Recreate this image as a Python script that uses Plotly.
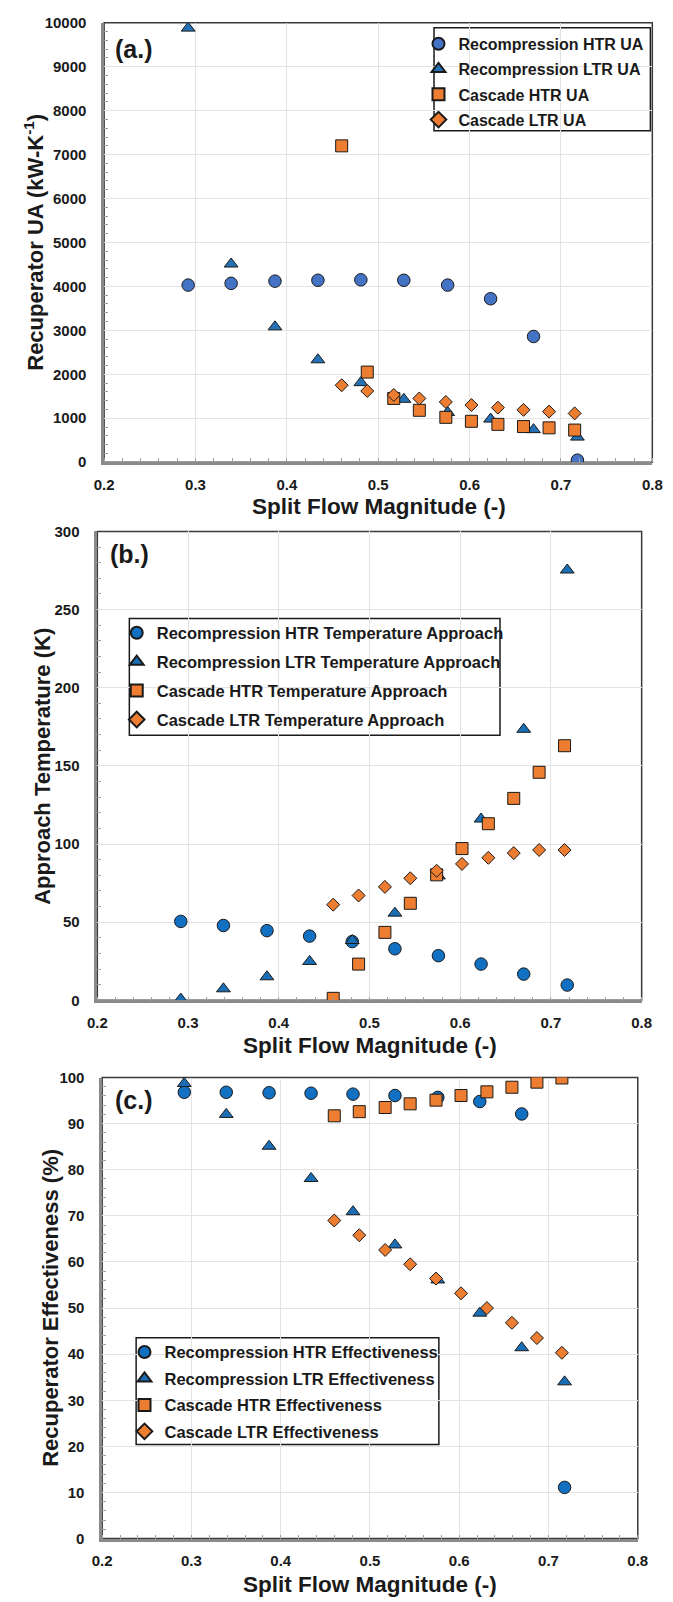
import plotly.graph_objects as go

# ---------------- data ----------------
x_recomp = [0.292, 0.339, 0.387, 0.434, 0.481, 0.528, 0.576, 0.623, 0.670, 0.718]
x_cascade = [0.460, 0.488, 0.517, 0.545, 0.574, 0.602, 0.631, 0.659, 0.687, 0.715]

ua_recomp_htr = [4030, 4070, 4120, 4140, 4150, 4140, 4030, 3720, 2860, 45]
ua_recomp_ltr = [9880, 4510, 3080, 2330, 1810, 1430, 1130, 980, 740, 570]
ua_cascade_htr = [7200, 2050, 1450, 1180, 1020, 930, 860, 810, 780, 730]
ua_cascade_ltr = [1750, 1620, 1530, 1450, 1370, 1300, 1240, 1190, 1150, 1110]

at_recomp_htr = [50.5, 47.9, 44.6, 41.1, 37.6, 33.0, 28.6, 23.2, 16.8, 9.8]
at_recomp_ltr = [0.8, 7.4, 15.1, 24.9, 38.3, 55.8, 79.6, 116.0, 173.4, 275.3]
at_cascade_htr = [1.3, 23.2, 43.5, 62.1, 80.3, 97.1, 113.0, 129.2, 145.9, 162.9]
at_cascade_ltr = [61.2, 67.1, 72.6, 78.1, 82.9, 87.3, 91.2, 94.2, 96.2, 96.2]

ef_recomp_htr = [96.8, 96.8, 96.7, 96.6, 96.4, 96.1, 95.7, 94.8, 92.1, 11.1]
ef_recomp_ltr = [98.7, 92.0, 85.1, 78.1, 70.9, 63.7, 56.1, 48.9, 41.4, 34.0]
ef_cascade_htr = [91.7, 92.6, 93.5, 94.3, 95.1, 96.1, 96.9, 97.9, 99.0, 99.9]
ef_cascade_ltr = [69.0, 65.8, 62.6, 59.5, 56.4, 53.2, 50.0, 46.8, 43.5, 40.3]

names_a = ["Recompression HTR UA", "Recompression LTR UA", "Cascade HTR UA", "Cascade LTR UA"]
names_b = ["Recompression HTR Temperature Approach", "Recompression LTR Temperature Approach",
           "Cascade HTR Temperature Approach", "Cascade LTR Temperature Approach"]
names_c = ["Recompression HTR Effectiveness", "Recompression LTR Effectiveness",
           "Cascade HTR Effectiveness", "Cascade LTR Effectiveness"]

x_ticks = [0.2, 0.3, 0.4, 0.5, 0.6, 0.7, 0.8]

# ---------------- layout helpers ----------------
W, H = 673, 1602
FONT = "Liberation Sans, Arial, sans-serif"
ORANGE = "#ED7D31"
INK = "#1a1a1a"


def px_x(p):
    return p / W


def px_y(p):
    return 1 - p / H


panels = [
    dict(box=(97, 662, 14, 458), yr=[0, 10000], dy=1000, minor_y=200,
         legbox=(437, 660, 19, 123), legx=421, legy=18, gap=1.5, lfs=16),
    dict(box=(90, 651, 528, 1002), yr=[0, 300], dy=50, minor_y=10,
         legbox=(123, 505, 616, 734), legx=110, legy=613, gap=4.5, lfs=16.5),
    dict(box=(95, 647, 1080, 1546), yr=[0, 100], dy=10, minor_y=2,
         legbox=(130, 442, 1343, 1451), legx=118, legy=1340, gap=2, lfs=16.5),
]

fig = go.Figure()

series = [
    (ua_recomp_htr, ua_recomp_ltr, ua_cascade_htr, ua_cascade_ltr, names_a, "#4472C4", "#2471B5"),
    (at_recomp_htr, at_recomp_ltr, at_cascade_htr, at_cascade_ltr, names_b, "#1170C2", "#1A6EB5"),
    (ef_recomp_htr, ef_recomp_ltr, ef_cascade_htr, ef_cascade_ltr, names_c, "#1170C2", "#1A6EB5"),
]

for i, (rh, rl, ch, cl, names, circ_col, tri_col) in enumerate(series):
    suffix = "" if i == 0 else str(i + 1)
    xa, ya = "x" + suffix, "y" + suffix
    leg = "legend" + suffix
    common = dict(mode="markers", xaxis=xa, yaxis=ya, legend=leg)
    fig.add_trace(go.Scatter(x=x_recomp, y=rh, name=names[0], legendgroup=f"g{i}0",
                             marker=dict(symbol="circle", size=12.5, color=circ_col,
                                         line=dict(color=INK, width=1)), **common))
    fig.add_trace(go.Scatter(x=x_recomp, y=rl, name=names[1], legendgroup=f"g{i}1",
                             marker=dict(symbol="triangle-up", size=12, color=tri_col,
                                         line=dict(color=INK, width=1)), **common))
    fig.add_trace(go.Scatter(x=x_cascade, y=ch, name=names[2], legendgroup=f"g{i}2",
                             marker=dict(symbol="square", size=12, color=ORANGE,
                                         line=dict(color=INK, width=1)), **common))
    fig.add_trace(go.Scatter(x=x_cascade, y=cl, name=names[3], legendgroup=f"g{i}3",
                             marker=dict(symbol="diamond", size=10, color=ORANGE,
                                         line=dict(color=INK, width=1)), **common))

layout = dict(
    width=W, height=H,
    margin=dict(l=0, r=0, t=0, b=0),
    paper_bgcolor="white", plot_bgcolor="white",
    font=dict(family=FONT, color=INK),
    showlegend=True,
)

shapes = []
for i, p in enumerate(panels):
    l, r, t, b = p["box"]
    suffix = "" if i == 0 else str(i + 1)
    layout["xaxis" + suffix] = dict(
        domain=[px_x(l), px_x(r)], anchor="y" + suffix, range=[0.2, 0.8],
        tickvals=x_ticks, ticktext=[f"{v:.1f}" for v in x_ticks],
        showgrid=True, gridcolor="#E3E3E3", gridwidth=1, zeroline=False,
        showline=True, linecolor="#8A8A8A", linewidth=2.5,
        ticks="", ticklabelstandoff=7,
        tickfont=dict(size=15, family=FONT, weight="bold", color=INK),
        minor=dict(ticks="inside", ticklen=4, dtick=0.02, tick0=0.2, tickcolor="#A0A0A0", showgrid=False),
    )
    layout["yaxis" + suffix] = dict(
        domain=[px_y(b), px_y(t)], anchor="x" + suffix, range=p["yr"], dtick=p["dy"],
        tickformat="d",
        showgrid=True, gridcolor="#E3E3E3", gridwidth=1, zeroline=False,
        showline=True, linecolor="#8A8A8A", linewidth=2.5,
        ticks="", ticklabelstandoff=12,
        tickfont=dict(size=15, family=FONT, weight="bold", color=INK),
        minor=dict(ticks="inside", ticklen=4, dtick=p["minor_y"], tick0=0, tickcolor="#A0A0A0", showgrid=False),
    )
    # plot-area frame
    shapes.append(dict(type="rect", xref="paper", yref="paper",
                       x0=px_x(l), x1=px_x(r), y0=px_y(b), y1=px_y(t),
                       line=dict(color="#3a3a3a", width=1.5), layer="between"))
    # legend box
    bl, br, bt, bb = p["legbox"]
    shapes.append(dict(type="rect", xref="paper", yref="paper",
                       x0=px_x(bl), x1=px_x(br), y0=px_y(bb), y1=px_y(bt),
                       line=dict(color=INK, width=1.5), fillcolor="white", layer="between"))
    layout["legend" + suffix] = dict(
        x=px_x(p["legx"]), y=px_y(p["legy"]), xanchor="left", yanchor="top",
        font=dict(family=FONT, size=p["lfs"], weight="bold", color=INK),
        bgcolor="rgba(0,0,0,0)", borderwidth=0,
        itemsizing="constant", tracegroupgap=p["gap"])

annotations = []


def ann(text, x, y, size, angle=0, xanchor="center"):
    annotations.append(dict(text=text, x=px_x(x), y=px_y(y), xref="paper", yref="paper",
                            showarrow=False, textangle=angle, xanchor=xanchor, yanchor="middle",
                            font=dict(family=FONT, size=size, weight="bold", color=INK)))


ann("(a.)", 106, 40, 25, xanchor="left")
ann("(b.)", 101, 551, 25, xanchor="left")
ann("(c.)", 106, 1103, 25, xanchor="left")

ann("Recuperator UA (kW-K<sup>-1</sup>)", 25, 236, 22, angle=-90)
ann("Approach Temperature (K)", 34, 765, 22, angle=-90)
ann("Recuperator Effectiveness (%)", 41, 1313, 22, angle=-90)

ann("Split Flow Magnitude (-)", 380, 503, 22.5)
ann("Split Flow Magnitude (-)", 371, 1048, 22.5)
ann("Split Flow Magnitude (-)", 371, 1592, 22.5)

layout["annotations"] = annotations
layout["shapes"] = shapes
fig.update_layout(**layout)

fig.write_html(
    "out.html",
    config={"displayModeBar": False},
    post_script=("document.body.style.margin='0';"
                 "document.body.style.overflow='hidden';"
                 "document.documentElement.style.overflow='hidden';"),
)
